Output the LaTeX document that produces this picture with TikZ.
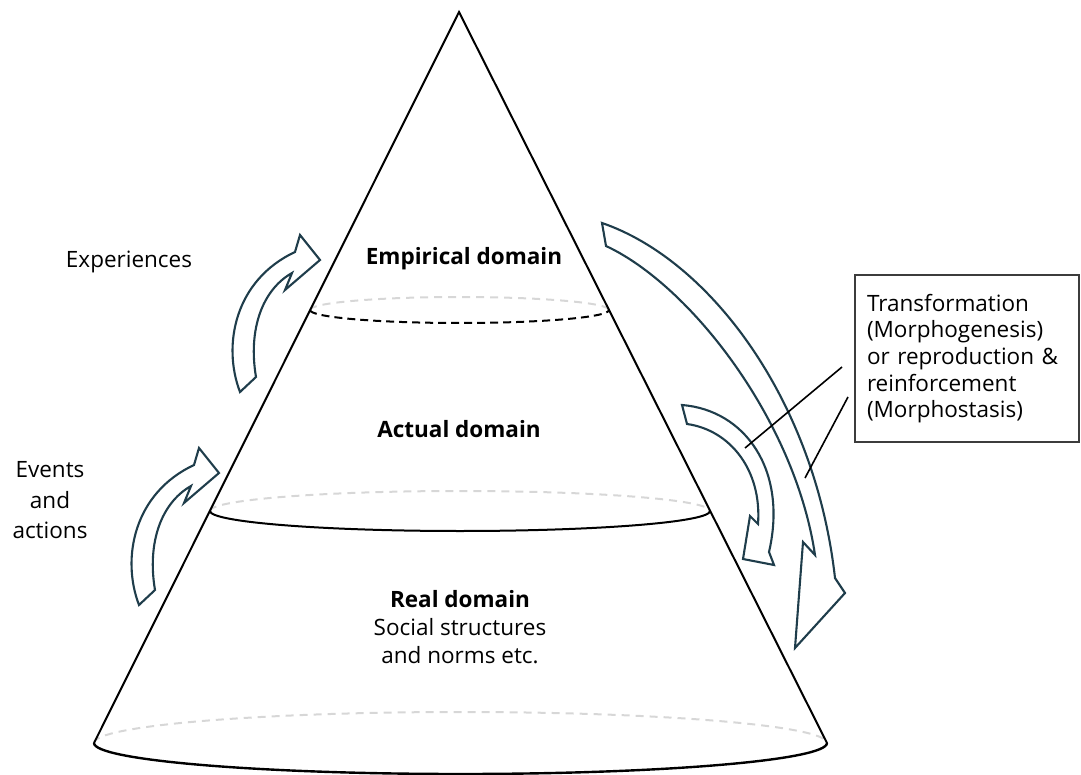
\documentclass[tikz,border=0pt]{standalone}
\usepackage{fontspec}
\setmainfont{Open Sans}
\definecolor{arrowc}{RGB}{31,61,75}
\definecolor{hiddenrim}{RGB}{215,215,215}
\definecolor{boxc}{RGB}{60,60,60}

\begin{document}
\begin{tikzpicture}[x=1pt,y=-1pt,
  edge/.style={line width=2pt, black, line join=miter},
  backrim/.style={hiddenrim, line width=2pt, dash pattern=on 8pt off 6pt},
  frontrim/.style={black, line width=2pt},
  blockarrow/.style={draw=arrowc, fill=white, line width=2.1pt, line join=miter},
  lbl/.style={font=\fontsize{22.5}{27}\selectfont, anchor=base, inner sep=0pt},
  lblb/.style={font=\fontsize{22.5}{27}\selectfont\bfseries, anchor=base, inner sep=0pt},
  leader/.style={line width=1.6pt, black}]

\useasboundingbox (0,0) rectangle (1081,775);

% rims seen from behind (hidden halves)
\draw[backrim] (310,310) arc[start angle=180, end angle=0, x radius=149.5pt, y radius=13pt];
\draw[backrim] (210,511) arc[start angle=180, end angle=0, x radius=250pt, y radius=20pt];
\draw[backrim] (94,743) arc[start angle=180, end angle=0, x radius=366.5pt, y radius=31pt];

% cone outline
\draw[edge] (94,743) -- (459,12) -- (827,743);

% rims, front halves
\draw[frontrim, dash pattern=on 8pt off 5pt] (310,310) arc[start angle=180, end angle=360, x radius=149.5pt, y radius=13pt];
\draw[frontrim] (210,511) arc[start angle=180, end angle=360, x radius=250pt, y radius=20pt];
\draw[frontrim, line width=2.4pt] (94,743) arc[start angle=180, end angle=360, x radius=366.5pt, y radius=31pt];

% curved block arrows on the left (experiences / events and actions)
\path[blockarrow] (240,392) .. controls (222,345) and (235,280) .. (295,252)
  -- (300,235) -- (320,260) -- (285,290) -- (292,273)
  .. controls (262,290) and (248,330) .. (256,377) -- cycle;
\path[blockarrow, shift={(-101,213)}] (240,392) .. controls (222,345) and (235,280) .. (295,252)
  -- (300,235) -- (320,260) -- (285,290) -- (292,273)
  .. controls (262,290) and (248,330) .. (256,377) -- cycle;

% curved block arrows on the right (feedback to the real domain)
\path[blockarrow] (602,223) .. controls (710,260) and (815,400) .. (835,578)
  -- (845,593) -- (795,648) -- (803,542) -- (815,555)
  .. controls (795,420) and (690,285) .. (606,246) -- cycle;
\path[blockarrow] (682,405) .. controls (745,410) and (788,470) .. (769,552)
  -- (774,565) -- (743,559) -- (750,516) -- (758,524)
  .. controls (762,470) and (730,430) .. (687,424) -- cycle;

% labels
\node[lblb] (emp) at (464,265) {Empirical domain};
\node[lblb] (act) at (459,437) {Actual domain};
\node[lblb] (real) at (460,607) {Real domain};
\node[lbl] (soc) at (460,635) {Social structures};
\node[lbl] (norms) at (460,663) {and norms etc.};
\node[lbl] (exp) at (129,268) {Experiences};
\node[lbl] (ev1) at (50,477) {Events};
\node[lbl] (ev2) at (50,508) {and};
\node[lbl] (ev3) at (50,538) {actions};

% explanatory box
\node[draw=boxc, line width=1.2pt, minimum height=167pt, text width=200pt,
      inner xsep=12pt, align=left, font=\fontsize{22.5}{26.6}\selectfont]
  (box) at (967,358.5) {Transformation\\(Morphogenesis)\\or reproduction \&\\reinforcement\\(Morphostasis)};

% leader lines from the box towards both arrows
\coordinate (la) at (842,367);
\coordinate (lb) at (848,397);
\coordinate (ta) at (745,448);
\coordinate (tb) at (805,478);
\draw[leader] (la) -- (ta);
\draw[leader] (lb) -- (tb);
\end{tikzpicture}
\end{document}
